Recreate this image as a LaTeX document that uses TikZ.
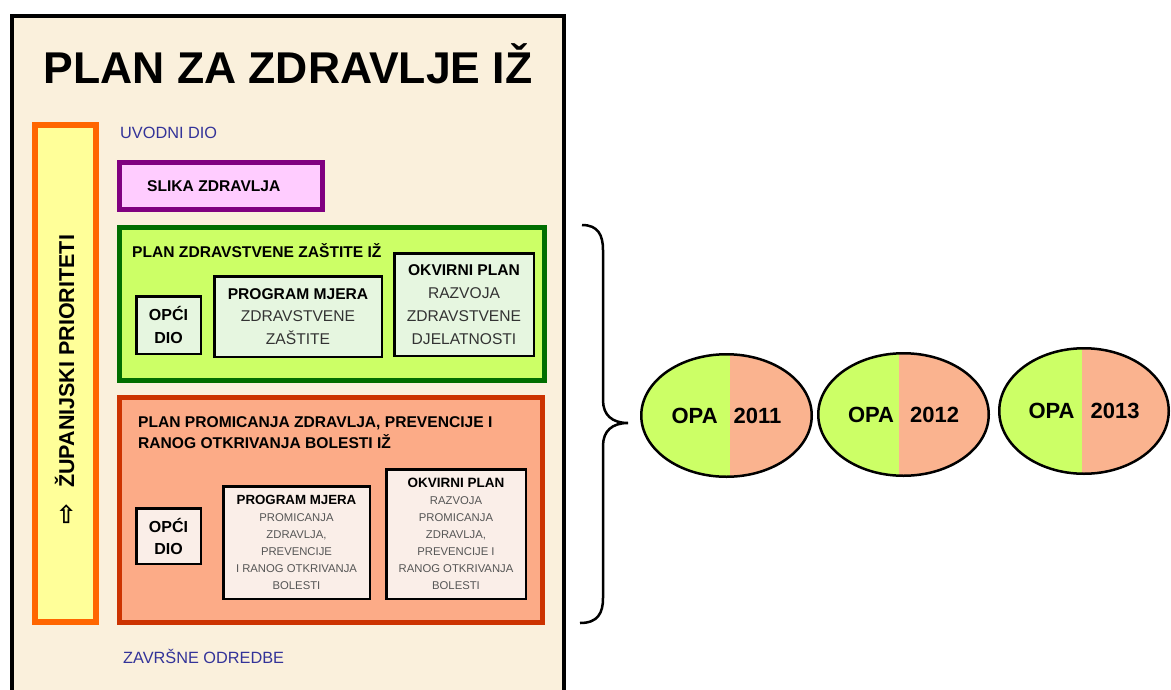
\documentclass[tikz,border=0pt]{standalone}
\usepackage{fontspec}
\setmainfont{Liberation Sans}
\newfontfamily\strelica{DejaVu Sans}
\usetikzlibrary{shapes.geometric}

\definecolor{pergament}{HTML}{FAF0DC}
\definecolor{narancasta}{HTML}{FF6600}
\definecolor{zuta}{HTML}{FFFF99}
\definecolor{ljubicasta}{HTML}{800080}
\definecolor{roza}{HTML}{FFCCFF}
\definecolor{zelena}{HTML}{006E00}
\definecolor{svjzelena}{HTML}{CCFF66}
\definecolor{zelunutra}{HTML}{E6F6E0}
\definecolor{crvena}{HTML}{CC3300}
\definecolor{losos}{HTML}{FCAB87}
\definecolor{crvunutra}{HTML}{FAEEE8}
\definecolor{plava}{HTML}{333399}
\definecolor{tamnosiva}{HTML}{333333}
\definecolor{siva}{HTML}{555555}
\definecolor{opazelena}{HTML}{CCFF66}
\definecolor{opalosos}{HTML}{FAB38F}

\tikzset{
  stup/.style={draw=narancasta, line width=6, fill=zuta},
  kutija/.style={line width=5, inner sep=0},
  unutra/.style={draw=black, line width=2.5, align=center, inner sep=1},
  naslov/.style={anchor=base west, inner sep=0, font=\fontsize{15.6}{21}\selectfont\bfseries},
  plavo/.style={anchor=base west, inner sep=0, text=plava, font=\fontsize{16.3}{19}\selectfont},
  opa/.style={ellipse, draw=black, line width=2.5, fill=opalosos, inner sep=0,
    minimum width=170.5, minimum height=122.5, font=\fontsize{22}{22}\selectfont\bfseries,
    path picture={\fill[opazelena] ([xshift=-100pt]path picture bounding box.south)
      rectangle ([xshift=#1]path picture bounding box.north);}},
  opa/.default=0
}

\begin{document}
\begin{tikzpicture}[x=1pt,y=-1pt]
    \useasboundingbox (0,0) rectangle (1171,689);
    \fill[white] (0,0) rectangle (1171,689);
    %Okvir
        \draw[line width=4, fill=pergament] (12,16) rectangle (564,700);
        \node[anchor=base, inner sep=0, font=\fontsize{44.5}{44.5}\selectfont\bfseries] (naslov) at (288,83) {PLAN ZA ZDRAVLJE IŽ};
    %Zupanijski prioriteti
        \node[stup, minimum width=61, minimum height=497, inner sep=0] (stup) at (65.5,373.5) {};
        \node[rotate=90, anchor=base west, inner sep=0, font=\fontsize{21.5}{21.5}\selectfont\bfseries] (prioriteti) at (74,525)
            {{\strelica\fontsize{25}{25}\selectfont ⇨}\hspace{16pt}ŽUPANIJSKI PRIORITETI};
    %Uvodni dio i slika
        \node[plavo] (uvod) at (120,138) {UVODNI DIO};
        \node[kutija, draw=ljubicasta, fill=roza, minimum width=203, minimum height=47] (slika) at (221,186) {};
        \node[naslov] (slikatekst) at (147,191) {SLIKA ZDRAVLJA};
    %Zastita
        \node[kutija, draw=zelena, fill=svjzelena, minimum width=425, minimum height=153] (zastita) at (332,304) {};
        \node[naslov] (zastitatekst) at (132,257.5) {PLAN ZDRAVSTVENE ZAŠTITE IŽ};
        \node[unutra, fill=zelunutra, minimum width=64.5, minimum height=57.5,
            font=\fontsize{16}{23}\selectfont\bfseries] (zopci) at (168.5,325) {OPĆI\\DIO};
        \node[unutra, fill=zelunutra, minimum width=167.5, minimum height=80.5, text=tamnosiva,
            font=\fontsize{15.6}{22.5}\selectfont] (zprogram) at (298,316.5)
            {\textcolor{black}{\bfseries PROGRAM MJERA}\\ZDRAVSTVENE\\ZAŠTITE};
        \node[unutra, fill=zelunutra, minimum width=139.5, minimum height=102.5, text=tamnosiva,
            font=\fontsize{15.6}{23}\selectfont] (zokvir) at (464,304.5)
            {\textcolor{black}{\bfseries OKVIRNI PLAN}\\RAZVOJA\\ZDRAVSTVENE\\DJELATNOSTI};
    %Promicanje
        \node[kutija, draw=crvena, fill=losos, minimum width=423, minimum height=225] (promicanje) at (331,510) {};
        \node[naslov, anchor=north west, align=left] (promicanjetekst) at (138,416)
            {PLAN PROMICANJA ZDRAVLJA, PREVENCIJE I\\RANOG OTKRIVANJA BOLESTI IŽ};
        \node[unutra, fill=crvunutra, minimum width=64.5, minimum height=55.5,
            font=\fontsize{16}{22}\selectfont\bfseries] (popci) at (168.5,536) {OPĆI\\DIO};
        \node[unutra, fill=crvunutra, minimum width=146.5, minimum height=112.5, text=siva,
            font=\fontsize{11.3}{17}\selectfont] (pprogram) at (296.5,542.5)
            {\textcolor{black}{\bfseries\fontsize{13.3}{17}\selectfont PROGRAM MJERA}\\PROMICANJA\\ZDRAVLJA,\\PREVENCIJE\\I RANOG OTKRIVANJA\\BOLESTI};
        \node[unutra, fill=crvunutra, minimum width=139.5, minimum height=129.5, text=siva,
            font=\fontsize{11.3}{17}\selectfont] (pokvir) at (456,534)
            {\textcolor{black}{\bfseries\fontsize{13.5}{17}\selectfont OKVIRNI PLAN}\\RAZVOJA\\PROMICANJA\\ZDRAVLJA,\\PREVENCIJE I\\RANOG OTKRIVANJA\\BOLESTI};
    %Zavrsne odredbe
        \node[plavo] (zavrsne) at (123,663) {ZAVRŠNE ODREDBE};
    %Zagrada
        \coordinate (vrh) at (628,423);
        \draw[line width=2.5] (582,225) .. controls (598,225) and (603,235) .. (603,250) -- (603,400)
            .. controls (603,415) and (612,423) .. (vrh)
            .. controls (612,423) and (603,431) .. (603,446) -- (603,598)
            .. controls (603,613) and (598,623) .. (580,623);
    %OPA
        \node[opa=3.5] (opa1) at (726.5,415.5) {OPA\hspace{16pt}2011};
        \node[opa=-4.5] (opa2) at (903.5,414.5) {OPA\hspace{16pt}2012};
        \node[opa=-2, minimum width=169.5, minimum height=125.5] (opa3) at (1084,411) {OPA\hspace{16pt}2013};
\end{tikzpicture}
\end{document}
